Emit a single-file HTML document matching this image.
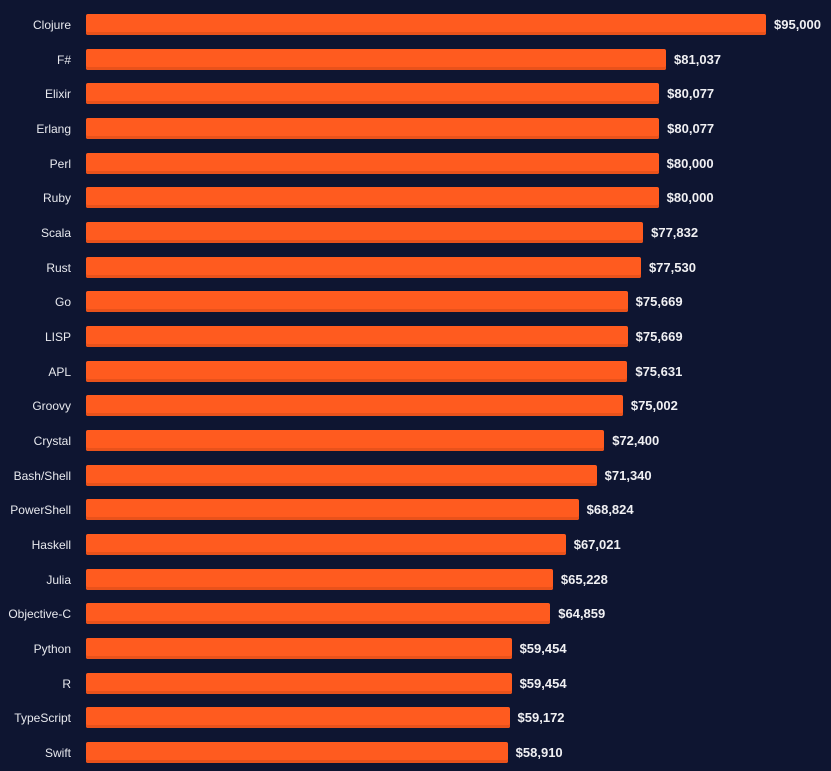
<!DOCTYPE html>
<html><head><meta charset="utf-8"><style>
html,body{margin:0;padding:0;background:#0e1531;width:831px;height:771px;overflow:hidden;font-family:"Liberation Sans",sans-serif}
.r{position:absolute;left:0;height:21px;width:831px}
.l{position:absolute;right:760px;top:4px;font-size:12px;color:#e8e9ee;white-space:nowrap}
.b{position:absolute;left:86px;top:0;height:21px;background:#ff5b1f;border-radius:2px;box-shadow:inset 0 -3px 0 #e9521b}
.v{position:absolute;top:3px;font-size:13px;font-weight:bold;color:#f0f0f3}
</style></head><body>
<script>
const d=[["Clojure",95000],["F#",81037],["Elixir",80077],["Erlang",80077],["Perl",80000],["Ruby",80000],["Scala",77832],["Rust",77530],["Go",75669],["LISP",75669],["APL",75631],["Groovy",75002],["Crystal",72400],["Bash/Shell",71340],["PowerShell",68824],["Haskell",67021],["Julia",65228],["Objective-C",64859],["Python",59454],["R",59454],["TypeScript",59172],["Swift",58910]];
let h="";d.forEach((e,i)=>{const y=14+i*34.67,w=e[1]*680/95000;
h+=`<div class="r" style="top:${y}px"><div class="l">${e[0]}</div><div class="b" style="width:${w}px"></div><div class="v" style="left:${86+w+8}px">$${e[1].toLocaleString('en-US')}</div></div>`});
document.write(h);
</script>
</body></html>
